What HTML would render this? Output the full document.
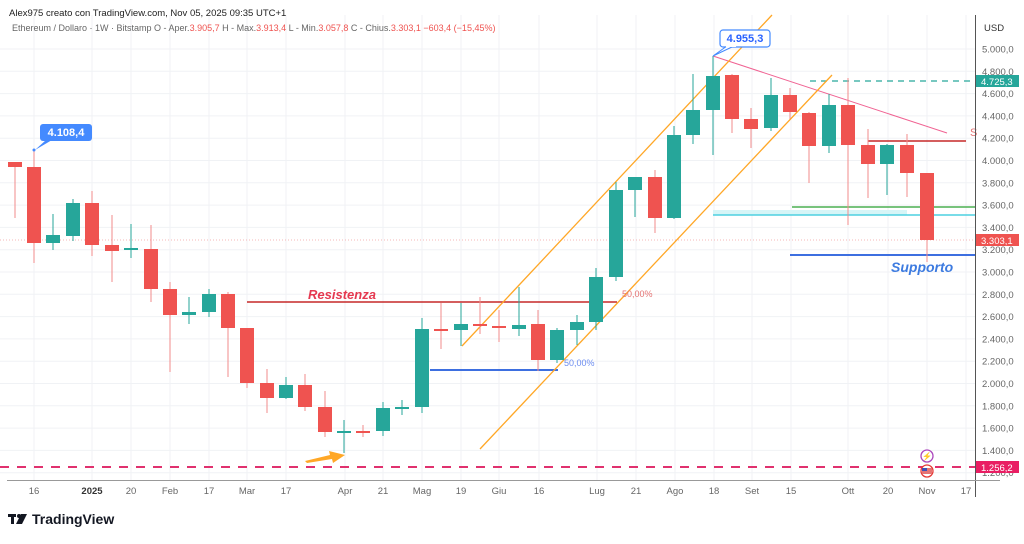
<!DOCTYPE html>
<html><head><meta charset="utf-8"><style>
html,body{margin:0;padding:0;background:#fff;}
body{width:1024px;height:539px;overflow:hidden;font-family:"Liberation Sans",sans-serif;}
svg text{font-family:"Liberation Sans",sans-serif;}
</style></head><body>
<svg id="s" width="1024" height="539" xmlns="http://www.w3.org/2000/svg">
<rect width="1024" height="539" fill="#fff"/>
<g id="grid"></g>
<g id="ov1">
<!-- cyan zone -->
<rect x="713" y="210" width="194" height="5" fill="#d6f5f7"/>
<line x1="713" y1="215" x2="975" y2="215" stroke="#4dd0e1" stroke-width="1.5"/>
<line x1="792" y1="207" x2="975" y2="207" stroke="#4caf50" stroke-width="1.5"/>
<line x1="790" y1="255" x2="975" y2="255" stroke="#3d6fe0" stroke-width="2"/>
<line x1="810" y1="81" x2="975" y2="81" stroke="#26a69a" stroke-width="1.2" stroke-dasharray="6,5"/>
<line x1="868" y1="141" x2="966" y2="141" stroke="#c62828" stroke-width="1.5"/>
<text x="970" y="136" font-size="11" fill="#e57373">S</text>
<line x1="0" y1="240" x2="975" y2="240" stroke="#f2a0a0" stroke-width="0.8" stroke-dasharray="1,2"/>
<line x1="0" y1="467" x2="975" y2="467" stroke="#e0316e" stroke-width="2" stroke-dasharray="9,8"/>
<line x1="247" y1="302" x2="617" y2="302" stroke="#c62828" stroke-width="1.5"/>
<line x1="430" y1="370" x2="558" y2="370" stroke="#3d6fe0" stroke-width="2"/>
<line x1="713" y1="56" x2="947" y2="133" stroke="#f06292" stroke-width="1"/>
<line x1="462" y1="346" x2="772" y2="15" stroke="#ffa726" stroke-width="1.3"/>
<line x1="480" y1="449" x2="832" y2="75" stroke="#ffa726" stroke-width="1.3"/>
</g>
<g id="candles"></g>
<g>
<text x="308" y="299" font-size="13" font-weight="bold" font-style="italic" fill="#e53950">Resistenza</text>
<text x="622" y="297" font-size="9" fill="#e57373">50,00%</text>
<text x="564" y="366" font-size="9" fill="#6b8cf0">50,00%</text>
<text x="891" y="272" font-size="14" font-weight="bold" font-style="italic" fill="#3d7be0">Supporto</text>
<!-- orange arrow -->
<polygon points="305,461 330,455 329,451 345,455 333,463 332,459 307,463" fill="#ffa726"/>
<!-- label 4108 -->
<rect x="40" y="124" width="52" height="17" rx="3" fill="#448aff"/>
<polygon points="46,140 52,140 35,150" fill="#448aff"/>
<circle cx="34" cy="150" r="1.5" fill="#448aff"/>
<text x="66" y="136" font-size="11" fill="#fff" text-anchor="middle" font-weight="bold">4.108,4</text>
<!-- label 4955 -->
<rect x="720" y="30" width="50" height="17" rx="3" fill="#fff" stroke="#448aff" stroke-width="1.2"/>
<polygon points="727,46 734,46 713,56" fill="#fff" stroke="#448aff" stroke-width="1"/>
<rect x="726" y="44" width="10" height="3" fill="#fff"/>
<text x="745" y="42" font-size="11" fill="#2962ff" text-anchor="middle" font-weight="bold">4.955,3</text>
<!-- icons -->
<circle cx="927" cy="456" r="6" fill="#fff" stroke="#ab47bc" stroke-width="1.3"/>
<text x="927" y="459" font-size="8" fill="#ab47bc" text-anchor="middle">⚡</text>
<circle cx="927" cy="471" r="6" fill="#fff" stroke="#e53935" stroke-width="1.3"/>
<rect x="922" y="468" width="10" height="6" fill="#e57373"/>
<rect x="922" y="468" width="5" height="3" fill="#3f51b5"/>
</g>
<!-- axes -->
<line x1="975.5" y1="15" x2="975.5" y2="497" stroke="#555" stroke-width="1"/>
<line x1="7" y1="480.5" x2="1000" y2="480.5" stroke="#999" stroke-width="1"/>
<g id="ylab" font-size="9.5" fill="#666"></g>
<text x="984" y="31" font-size="9.5" fill="#333">USD</text>
<rect x="976" y="75" width="43" height="12" fill="#26a69a"/>
<text x="981" y="85" font-size="9.5" fill="#fff">4.725,3</text>
<rect x="976" y="234" width="43" height="12" fill="#ef5350"/>
<text x="981" y="244" font-size="9.5" fill="#fff">3.303,1</text>
<rect x="976" y="461" width="43" height="12" fill="#e91e63"/>
<text x="981" y="471" font-size="9.5" fill="#fff">1.256,2</text>
<g id="xlab" font-size="9.5" fill="#666" text-anchor="middle"></g>
<text x="9" y="16" font-size="9.5" fill="#222">Alex975 creato con TradingView.com, Nov 05, 2025 09:35 UTC+1</text>
<text x="12" y="31" font-size="9" fill="#666">Ethereum / Dollaro · 1W · Bitstamp  O - Aper.<tspan fill="#ef5350">3.905,7</tspan>  H - Max.<tspan fill="#ef5350">3.913,4</tspan>  L - Min.<tspan fill="#ef5350">3.057,8</tspan>  C - Chius.<tspan fill="#ef5350">3.303,1  −603,4 (−15,45%)</tspan></text>
<!-- logo -->
<rect x="8" y="514" width="8" height="3" fill="#131722"/>
<rect x="11" y="514" width="3" height="10" fill="#131722"/>
<circle cx="19" cy="516" r="2" fill="#131722"/>
<polygon points="21,514 27,514 22,524 16,524" fill="#131722"/>
<text x="32" y="524" font-size="14" font-weight="bold" fill="#131722">TradingView</text>
</svg>
<script>
var NS="http://www.w3.org/2000/svg";
function el(p,t,a,txt){var e=document.createElementNS(NS,t);for(var k in a)e.setAttribute(k,a[k]);if(txt)e.textContent=txt;p.appendChild(e);return e;}
function Y(p){return 49+(5000-p)*0.1115;}
var g=document.getElementById('grid'),yl=document.getElementById('ylab'),xl=document.getElementById('xlab');
for(var p=1200;p<=5000;p+=200){var y=Y(p);el(g,'line',{x1:0,x2:975,y1:y,y2:y,stroke:'#f0f2f5','stroke-width':1});
 var s=(p/1000|0)+'.'+String(p%1000).padStart(3,'0')+',0';el(yl,'text',{x:982,y:y+3.5},s);}
var xs=[[34,'16'],[92,'2025'],[131,'20'],[170,'Feb'],[209,'17'],[247,'Mar'],[286,'17'],[345,'Apr'],[383,'21'],[422,'Mag'],[461,'19'],[499,'Giu'],[539,'16'],[597,'Lug'],[636,'21'],[675,'Ago'],[714,'18'],[752,'Set'],[791,'15'],[848,'Ott'],[888,'20'],[927,'Nov'],[966,'17']];
xs.forEach(function(a){el(g,'line',{x1:a[0],x2:a[0],y1:15,y2:480,stroke:'#f0f2f5','stroke-width':1});
 var t=el(xl,'text',{x:a[0],y:494},a[1]);if(a[1]=='2025'){t.setAttribute('font-weight','bold');t.setAttribute('fill','#333');}});
// x, open, close, high, low (pixel y)
var C=[[15,162,167,162,218],[34,167,243,150,263],[53,243,235,214,250],[73,236,203,199,241],[92,203,245,191,256],[112,245,251,215,282],[131,250,248,224,258],[151,249,289,225,302],[170,289,315,282,372],[189,315,312,297,324],[209,312,294,289,317],[228,294,328,292,377],[247,328,383,328,388],[267,383,398,369,413],[286,398,385,377,399],[305,385,407,374,411],[325,407,432,391,437],[344,432,431,420,453],[363,431,432,425,437],[383,431,408,402,436],[402,409,407,400,415],[422,407,329,318,413],[441,329,330,303,349],[461,330,324,303,346],[480,324,326,297,334],[499,326,328,310,342],[519,329,325,287,336],[538,324,360,310,371],[557,360,330,328,363],[577,330,322,315,345],[596,322,277,268,330],[616,277,190,182,281],[635,190,177,177,217],[655,177,218,170,233],[674,218,135,126,219],[693,135,110,74,144],[713,110,76,56,155],[732,75,119,74,133],[751,119,129,108,148],[771,128,95,78,131],[790,95,112,88,119],[809,113,146,112,183],[829,146,105,94,153],[848,105,145,78,225],[868,145,164,129,198],[887,164,145,144,195],[907,145,173,134,197],[927,173,240,173,262]];
var cg=document.getElementById('candles');
C.forEach(function(c){var up=c[2]<c[1];var col=up?'#26a69a':'#ef5350';var wc=up?'#26a69a':'#f28b8b';
 el(cg,'line',{x1:c[0],x2:c[0],y1:c[3],y2:c[4],stroke:wc,'stroke-width':1});
 var t=Math.min(c[1],c[2]),h=Math.max(2,Math.abs(c[1]-c[2]));
 el(cg,'rect',{x:c[0]-7,y:t,width:14,height:h,fill:col});});
</script>
</body></html>
